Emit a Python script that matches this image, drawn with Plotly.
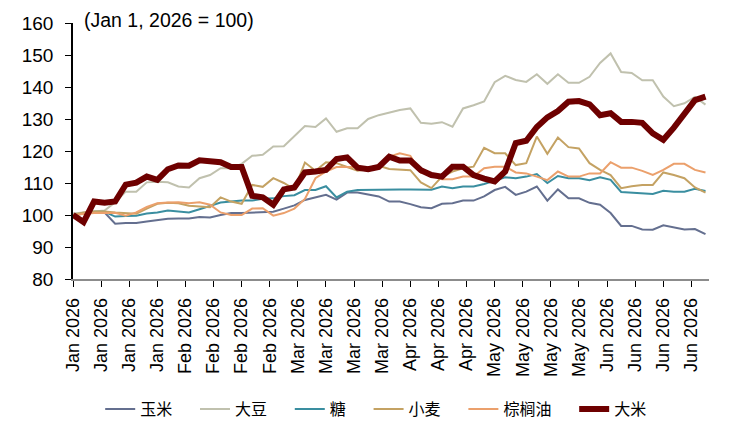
import pandas as pd
import plotly.graph_objects as go

# daily index, read every 3 days off the chart (Jan 1, 2026 = 100)
dates = pd.date_range("2026-01-01", periods=61, freq="3D")

corn = [100, 100.5, 100.8, 100.8, 97.3, 97.5, 97.5, 98, 98.4, 98.8,
        98.9, 98.9, 99.4, 99.2, 100, 100.6, 100.6, 100.8, 100.8, 101,
        102, 103, 104.7, 105.5, 106.3, 104.8, 107, 107, 106.5, 105.8,
        104.2, 104.2, 103.4, 102.4, 102.1, 103.5, 103.7, 104.5, 104.5, 105.8,
        107.8, 108.8, 106.3, 107.3, 108.9, 104.5, 108, 105.2, 105.2, 103.8,
        103.2, 100.6, 96.6, 96.6, 95.5, 95.4, 96.8, 96.2, 95.5, 95.6, 94]

soy = [100.5, 100.8, 101, 101.4, 104, 107.3, 107.3, 110.2, 110.4, 110.2,
       108.9, 108.6, 111.5, 112.5, 114.6, 114.6, 116, 118.5, 118.8, 121.4,
       121.5, 124.5, 127.8, 127.5, 130.2, 126, 127.1, 127.1, 130, 131.2,
       132, 132.8, 133.3, 128.8, 128.5, 129, 127.6, 133.3, 134.3, 135.5,
       141.5, 143.5, 142.2, 141.6, 144, 141, 144, 141.3, 141.3, 143.2,
       147.5, 150.5, 144.7, 144.4, 142.1, 142.1, 137, 134, 134.9, 136.9, 134.5]

sugar = [100, 100.5, 101, 101, 99.5, 99.7, 99.8, 100.5, 100.8, 101.4,
         101.2, 100.8, 101.8, 102.9, 103.9, 104.2, 104.5, 104.5, 105.1, 105.2,
         105.9, 106.2, 107.8, 107.8, 109, 105.5, 107.3, 107.8, 107.9, 108,
         108, 108, 108, 108, 107.9, 108.9, 108.4, 108.9, 108.9, 109.7,
         110.8, 111.8, 111.5, 112, 112.8, 110, 112.2, 111.5, 111.5, 110.9,
         111.8, 111, 107.2, 107, 106.6, 106.6, 107.6, 107.3, 107.3, 108.2, 107.5]

wheat = [100, 100.8, 101.1, 101.1, 100.8, 100.6, 100.4, 102, 103.5, 103.8,
         103.7, 102.9, 102.6, 102.4, 105.5, 104.2, 103.5, 109.4, 108.8, 111.5,
         110, 108, 116.4, 113.8, 116.5, 116.2, 115, 113.8, 114.3, 115.4,
         114.4, 114.3, 114, 110.2, 108.4, 112, 113.6, 114.6, 115.1, 121,
         119.3, 119.3, 115.6, 116.2, 124.5, 119.1, 124.2, 121.2, 120.8, 116.2,
         114.1, 112.5, 108.4, 109, 109.4, 109.4, 113.3, 112.5, 111.5, 108.6, 107]

palm = [100, 100.4, 100.6, 100.6, 100.7, 99.8, 100.8, 102.5, 103.7, 103.9,
        104, 103.7, 104, 103.2, 100.8, 100, 100, 102, 102.1, 99.8,
        100.6, 102, 105, 111.5, 113.6, 115, 115.1, 115, 114.8, 115.5,
        118.2, 119.3, 118.5, 113.2, 113, 111.2, 111.2, 112, 112, 114.6,
        115.1, 115.1, 113.3, 113, 112, 110.9, 113.6, 112, 112, 113,
        113, 116.5, 114.8, 114.8, 113.8, 112.5, 114.1, 116, 116, 114.1, 113.3]

rice = [100, 97.8, 104.2, 103.8, 104.2, 109.5, 110.1, 112, 111, 114.3,
        115.5, 115.4, 117.1, 116.9, 116.5, 115, 115, 106, 105.5, 103.2,
        108, 108.6, 113.3, 113.6, 114.1, 117.5, 118, 114.8, 114.3, 115,
        118.2, 117, 117, 114, 112.5, 112, 115.1, 115.1, 112.5, 111.4,
        110.5, 113.6, 122.5, 123.2, 127.5, 130.5, 132.5, 135.4, 135.6, 134.6,
        131.2, 131.8, 129.1, 129.1, 128.8, 125.5, 123.5, 127.3, 132, 135.9, 137]

names = ["玉米", "大豆", "糖", "小麦", "棕榈油", "大米"]
colors = ["#646f8f", "#c0c1ae", "#3a8ea0", "#c4a263", "#eba06c", "#6e0000"]
widths = [2, 2, 2, 2, 2, 6]
series = [corn, soy, sugar, wheat, palm, rice]

tick_dates = pd.date_range("2026-01-01", "2026-06-30", freq="8D")
tick_text = [d.strftime("%b %Y") for d in tick_dates]

pad = "\u00a0" * 4  # spacing between legend entries
fig = go.Figure()
for i, (name, vals, c, w) in enumerate(zip(names, series, colors, widths)):
    label = name if i == len(names) - 1 else name + pad
    fig.add_trace(go.Scatter(x=dates, y=vals, name=label, mode="lines",
                             line=dict(color=c, width=w)))

# page body has an 8px margin, so the figure is sized 8px smaller
fig.update_layout(
    width=731, height=425,
    margin=dict(l=65, r=30, t=15, b=154, autoexpand=False),
    plot_bgcolor="white", paper_bgcolor="white",
    font=dict(family="Liberation Sans, Arial, Noto Sans CJK SC", size=18, color="#000"),
    showlegend=True,
    legend=dict(orientation="h", xref="container", yref="container",
                x=0.503, xanchor="center", y=0.0565, yanchor="middle",
                font=dict(size=16), itemwidth=30, tracegroupgap=0),
    annotations=[dict(text="(Jan 1, 2026 = 100)", xref="paper", yref="paper",
                      x=0.014, y=1.012, xanchor="left", yanchor="middle",
                      showarrow=False, font=dict(size=19.5))],
)
fig.update_xaxes(type="date", range=["2026-01-01", "2026-07-01"],
                 tickvals=tick_dates, ticktext=tick_text, tickangle=-90,
                 ticks="outside", ticklen=6, tickcolor="#000",
                 showline=True, linecolor="#8c8c8c", linewidth=1.5,
                 showgrid=False, zeroline=False, automargin=False,
                 ticklabelstandoff=4, tickfont=dict(size=18))
fig.update_yaxes(range=[80, 160], dtick=10, ticks="outside", ticklen=6,
                 tickcolor="#000", showline=True, linecolor="#000", linewidth=1.5,
                 showgrid=False, zeroline=False, automargin=False,
                 ticklabelstandoff=8, tickfont=dict(size=19))

fig.write_html("out.html")
